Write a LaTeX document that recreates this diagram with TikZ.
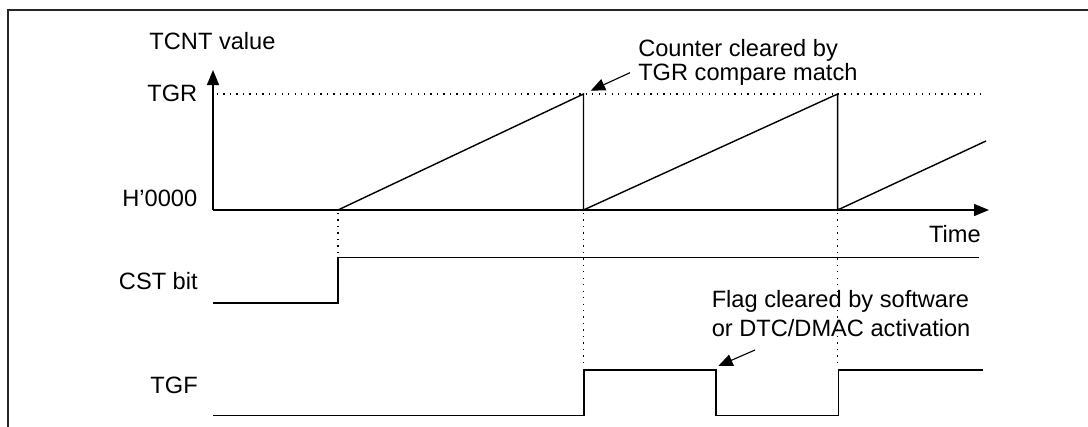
\documentclass[tikz,border=0pt]{standalone}
\usepackage{fontspec}
\setsansfont{Liberation Sans}
\usetikzlibrary{arrows.meta}
\newcommand\labsize{\fontsize{16.8pt}{17.6pt}\selectfont}

\begin{document}
\begin{tikzpicture}[
  x=0.025cm,y=-0.025cm,
  font=\sffamily\labsize,
  sig/.style={line width=1pt,line join=miter},
  axis/.style={-{Triangle[length=0.375cm,width=0.3cm]},line width=1pt},
  guide/.style={line width=0.8pt,dash pattern=on 0.9pt off 3.7pt},
  pointer/.style={-{Triangle[length=0.36cm,width=0.3cm]},line width=0.8pt},
  lab/.style={inner sep=0pt},
  note/.style={inner sep=0pt,align=left}]
\useasboundingbox (0,0) rectangle (1088,427);
% frame
\draw[line width=1.4pt,black!85] (8,427) -- (8,10) -- (1088,10);
% axes
\coordinate (org) at (213,210);
\coordinate (ytip) at (213,70);
\coordinate (xtip) at (989,210);
\draw[axis] (org) -- (ytip);
\draw[axis] (org) -- (xtip);
\node[lab,anchor=base] (yname) at (212.5,49.3) {TCNT value};
\node[lab,anchor=base east] (tgr) at (197.5,101.7) {TGR};
\node[lab,anchor=base east] (zero) at (197.5,206.7) {H\char"0027 0000};
\node[lab,anchor=base east] (time) at (981,242) {Time};
\node[lab,anchor=base east] (cst) at (198,289.3) {CST bit};
\node[lab,anchor=base east] (tgf) at (198,393.3) {TGF};
% guide lines
\draw[guide] (217,94) -- (981,94);
\draw[guide] (338,213) -- (338,255);
\foreach \x in {583.5,837.6}
  \draw[guide] (\x,213) -- (\x,368);
% counter
\draw[sig] (338,210) -- (583.5,94) -- (583.5,210) -- (837.6,94) -- (837.6,210) -- (986,141);
% CST bit
\draw[sig] (213,303) -- (338,303) -- (338,257.5) -- (979,257.5);
% TGF
\draw[sig] (213,415.5) -- (584,415.5) -- (584,370) -- (716,370) -- (716,415.5)
  -- (838.5,415.5) -- (838.5,370) -- (983,370);
% notes (base = last line)
\node[note,anchor=base west] (clrnote) at (638,81) {Counter cleared by\\TGR compare match};
\node[note,anchor=base west] (flagnote) at (711.5,336.7) {Flag cleared by software\\[3pt]or DTC/DMAC activation};
\coordinate (clrtail) at (630,72.7);
\coordinate (clrtip) at (590.7,90.7);
\coordinate (flagtail) at (755,350);
\coordinate (flagtip) at (718.3,366);
\draw[pointer] (clrtail) -- (clrtip);
\draw[pointer] (flagtail) -- (flagtip);
\end{tikzpicture}
\end{document}
